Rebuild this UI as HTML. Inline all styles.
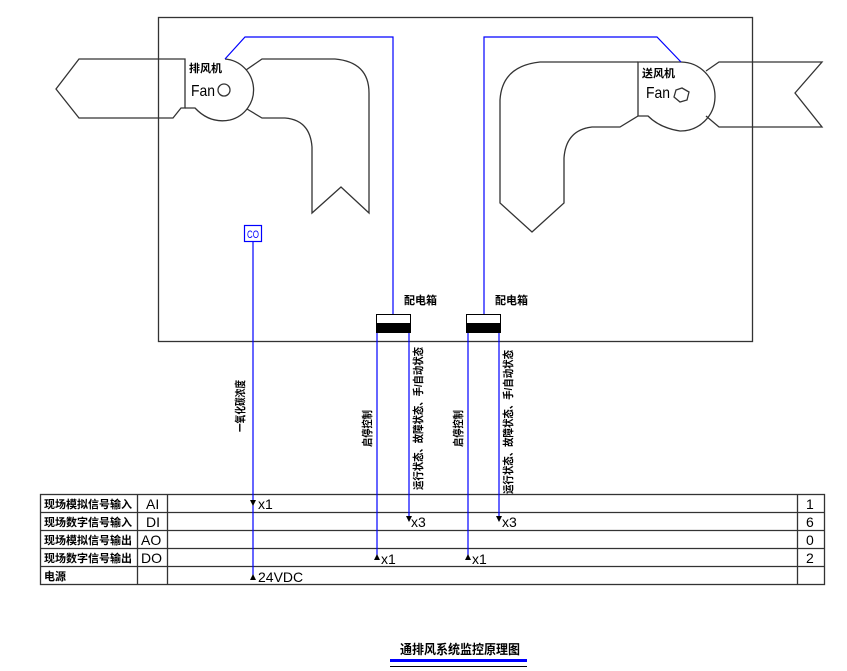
<!DOCTYPE html>
<html><head><meta charset="utf-8"><style>html,body{margin:0;padding:0;background:#fff}svg{display:block}</style></head>
<body>
<svg width="847" height="671" viewBox="0 0 847 671" xmlns="http://www.w3.org/2000/svg" font-family="'Liberation Sans','Noto Sans CJK SC',sans-serif">
<rect width="847" height="671" fill="#fff"/>
<g fill="none" stroke="#333" stroke-width="1.3">
<rect x="158.5" y="17.5" width="594" height="324"/>
<path d="M185,59 H79 L56,89 L79,118 H173 L181,108 H185 Z"/>
<path d="M185,108 H195 Q210,124 230,120 A31,31 0 0 0 225,59"/>
<path d="M246,70 L262,59 H335 Q369,62 369,93 V213 L341,187 L312,213 V147 Q310,120 285,118 H262 L247,109"/>
<circle cx="224" cy="90" r="6"/>
<path d="M638,62 V116 H648 Q660,128 680,131 A34,34 0 0 0 681,62 Z"/>
<path d="M638,62 H540 Q502,66 500,100 V203 L532,232 L564,203 V158 Q566,130 592,127 H620 L638,116"/>
<path d="M706,71 L719,62 H822 L795,93 L822,127 H719 L706,116"/>
<path d="M682,88 L689,92 L687,100 L680,102 L674,97 L676,90 Z"/>
<rect x="40.5" y="494.5" width="784" height="90"/>
<path d="M40,512.5H825M40,530.5H825M40,548.5H825M40,566.5H825M137.5,494V585M167.5,494V585M797.5,494V585"/>
</g>
<g stroke="#0000ff" stroke-width="1.2" fill="none">
<path d="M225,59 L245,37 H393 V314"/>
<path d="M484,314 V37 H657 L681,62"/>
<rect x="244.5" y="225.5" width="17" height="16"/>
<path d="M253,241 V578 M377,333 V557 M409,333 V521 M468,333 V557 M499,333 V521"/>
</g>
<rect x="390" y="659" width="137" height="3" fill="#0000ff"/>
<path d="M390,666.5H527" stroke="#000" stroke-width="1"/>
<rect x="376.5" y="314.5" width="34" height="18" fill="#fff" stroke="#000"/>
<rect x="376.5" y="323" width="34" height="9.5" fill="#000"/>
<rect x="466.5" y="314.5" width="34" height="18" fill="#fff" stroke="#000"/>
<rect x="466.5" y="323" width="34" height="9.5" fill="#000"/>
<g fill="#000">
<path d="M250,500 h6 l-3,6z M406,516 h6 l-3,6z M496,516 h6 l-3,6z M374,560 h6 l-3,-6z M465,560 h6 l-3,-6z M250,580 h6 l-3,-6z"/>
</g>
<g font-size="13" fill="#000">
<text x="191" y="96" font-size="16" textLength="24" lengthAdjust="spacingAndGlyphs">Fan</text>
<text x="646" y="98" font-size="16" textLength="24" lengthAdjust="spacingAndGlyphs">Fan</text>
<text x="189" y="72" font-size="11" font-weight="bold">排风机</text>
<text x="642" y="77" font-size="11" font-weight="bold">送风机</text>
<text x="247" y="238" font-size="11" fill="#0000ff" textLength="12" lengthAdjust="spacingAndGlyphs">CO</text>
<text x="404" y="304" font-size="11" font-weight="bold">配电箱</text>
<text x="495" y="304" font-size="11" font-weight="bold">配电箱</text>
<text x="258" y="509" font-size="14">x1</text>
<text x="411" y="527" font-size="14">x3</text>
<text x="502" y="527" font-size="14">x3</text>
<text x="381" y="564" font-size="14">x1</text>
<text x="472" y="564" font-size="14">x1</text>
<text x="258" y="582" font-size="14">24VDC</text>
<g font-size="11" font-weight="bold">
<text x="44" y="508">现场模拟信号输入</text>
<text x="44" y="526">现场数字信号输入</text>
<text x="44" y="544">现场模拟信号输出</text>
<text x="44" y="562">现场数字信号输出</text>
<text x="44" y="580">电源</text>
</g>
<g font-size="14">
<text x="146" y="509">AI</text><text x="146" y="527">DI</text><text x="141" y="545">AO</text><text x="141" y="563">DO</text>
<text x="806" y="509">1</text><text x="806" y="527">6</text><text x="806" y="545">0</text><text x="806" y="563">2</text>
</g>
<g font-size="11" font-weight="bold">
<text transform="translate(244,432) rotate(-90)" textLength="52" lengthAdjust="spacingAndGlyphs">一氧化碳浓度</text>
<text transform="translate(371,447) rotate(-90)" textLength="37" lengthAdjust="spacingAndGlyphs">启停控制</text>
<text transform="translate(462,447) rotate(-90)" textLength="37" lengthAdjust="spacingAndGlyphs">启停控制</text>
<text transform="translate(422,490) rotate(-90)" textLength="143" lengthAdjust="spacingAndGlyphs">运行状态、故障状态、手/自动状态</text>
<text transform="translate(512,494) rotate(-90)" textLength="144" lengthAdjust="spacingAndGlyphs">运行状态、故障状态、手/自动状态</text>
</g>
<text x="400" y="654" font-size="13" font-weight="bold" textLength="120" lengthAdjust="spacingAndGlyphs">通排风系统监控原理图</text>
</g>
</svg>
</body></html>
